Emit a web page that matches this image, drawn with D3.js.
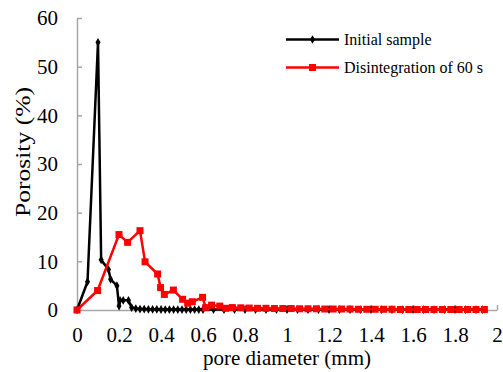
<!DOCTYPE html>
<html><head><meta charset="utf-8">
<script src="https://cdn.jsdelivr.net/npm/d3@7"></script>
<style>body{margin:0;background:#fff}svg{display:block}text{font-family:"Liberation Serif","Times New Roman",serif;fill:#000}</style>
</head><body>
<svg id="c" width="503" height="372"></svg>
<script>
const xTicks = [0,0.2,0.4,0.6,0.8,1,1.2,1.4,1.6,1.8,2];
const xTickLabels = ["0","0.2","0.4","0.6","0.8","1","1.2","1.4","1.6","1.8","2"];
const yTicks = [0,10,20,30,40,50,60];

const initialX = [0,0.05,0.1,0.115,0.15,0.16,0.19,0.2,0.205,0.22,0.245,0.26,0.28,0.3,0.32,0.34,0.36,0.38,0.4,0.42,0.44,0.46,0.48,0.5,0.52,0.54,0.56,0.58,0.6,0.65,0.7,0.75,0.8,0.85,0.9,0.95,1.0,1.05,1.1,1.15,1.2,1.25,1.3,1.35,1.4,1.45,1.5,1.55,1.6,1.65,1.7,1.75,1.8,1.85,1.9,1.93];
const initialY = [0,5.8,55,10.3,8.3,6.3,5,0.8,2,2,2,0.5,0.3,0.2,0.2,0.15,0.15,0.15,0.1,0.1,0.1,0.1,0.1,0.1,0.1,0.1,0.1,0.1,0.1,0.1,0.1,0.1,0.1,0.1,0.1,0.1,0.1,0.1,0.1,0.1,0.1,0.1,0.1,0.1,0.1,0.1,0.1,0.1,0.1,0.1,0.1,0.1,0.1,0.1,0.1,0.1];

const disX = [0,0.098,0.2,0.241,0.3,0.324,0.384,0.398,0.416,0.459,0.503,0.527,0.549,0.598,0.613,0.641,0.68,0.708,0.74,0.78,0.82,0.86,0.9,0.94,0.98,1.02,1.06,1.1,1.14,1.18,1.22,1.26,1.3,1.34,1.38,1.42,1.46,1.5,1.54,1.58,1.62,1.66,1.7,1.74,1.78,1.82,1.86,1.9,1.94];
const disY = [0,4.0,15.5,13.9,16.3,9.9,7.4,4.6,3.2,4.1,2.2,1.4,1.7,2.6,0.5,1.0,0.8,0.35,0.5,0.45,0.4,0.35,0.35,0.3,0.3,0.3,0.25,0.25,0.25,0.2,0.2,0.2,0.2,0.15,0.15,0.15,0.15,0.15,0.1,0.1,0.1,0.1,0.1,0.1,0.1,0.1,0.1,0.1,0.1];

const svg = d3.select("#c");
const L=77,R=497,T=18,B=310;
const x = d3.scaleLinear().domain([0,2]).range([L,R]);
const y = d3.scaleLinear().domain([0,60]).range([B,T]);
const axisCol = "#a6a6a6";

// axes
const xa = svg.append("g").attr("transform",`translate(0,${B})`)
  .call(d3.axisBottom(x).tickValues(xTicks).tickSizeInner(-5).tickSizeOuter(0).tickFormat((d,i)=>xTickLabels[i]).tickPadding(18));
xa.select(".domain").attr("stroke",axisCol).attr("stroke-width",1.5);
xa.selectAll(".tick line").attr("stroke",axisCol).attr("stroke-width",1.5);
xa.selectAll("text").attr("font-size",21).attr("font-family","Liberation Serif").attr("fill","#000").attr("dy","0.71em").attr("y",17);

const ya = svg.append("g").attr("transform",`translate(${L},0)`)
  .call(d3.axisLeft(y).tickValues(yTicks).tickSizeInner(-5).tickSizeOuter(0).tickPadding(18));
ya.select(".domain").attr("stroke",axisCol).attr("stroke-width",1.5);
ya.selectAll(".tick line").attr("stroke",axisCol).attr("stroke-width",1.5);
ya.selectAll("text").attr("font-size",21).attr("font-family","Liberation Serif").attr("fill","#000").attr("x",-19);

// titles
svg.append("text").attr("x",287).attr("y",365).attr("text-anchor","middle").attr("font-size",21).text("pore diameter (mm)");
svg.append("text").attr("transform","translate(30,152) rotate(-90)").attr("text-anchor","middle").attr("font-size",22)
  .attr("textLength",130).attr("lengthAdjust","spacingAndGlyphs").text("Porosity (%)");

const line = d3.line().x(d=>x(d[0])).y(d=>y(d[1]));
const init = initialX.map((v,i)=>[v,initialY[i]]);
const dis = disX.map((v,i)=>[v,disY[i]]);

svg.append("path").datum(init).attr("d",line).attr("fill","none").attr("stroke","#000").attr("stroke-width",2.5).attr("stroke-linejoin","round");
const diamond = d3.symbol().type(d3.symbolDiamond).size(22);
svg.append("g").selectAll("path").data(init).join("path").attr("d",diamond)
  .attr("transform",d=>`translate(${x(d[0])},${y(d[1])})`).attr("fill","#000");

svg.append("path").datum(dis).attr("d",line).attr("fill","none").attr("stroke","#ff0000").attr("stroke-width",2.5).attr("stroke-linejoin","round");
svg.append("g").selectAll("rect").data(dis).join("rect")
  .attr("x",d=>x(d[0])-3.5).attr("y",d=>y(d[1])-3.5).attr("width",7).attr("height",7).attr("fill","#ff0000");

// legend
const lg = svg.append("g");
lg.append("line").attr("x1",286).attr("x2",339).attr("y1",39.5).attr("y2",39.5).attr("stroke","#000").attr("stroke-width",2.5);
lg.append("path").attr("d",diamond).attr("transform","translate(312.5,39.5)").attr("fill","#000");
lg.append("text").attr("x",344).attr("y",45).attr("font-size",16).text("Initial sample");
lg.append("line").attr("x1",286).attr("x2",339).attr("y1",67.5).attr("y2",67.5).attr("stroke","#ff0000").attr("stroke-width",2.5);
lg.append("rect").attr("x",309).attr("y",64).attr("width",7).attr("height",7).attr("fill","#ff0000");
lg.append("text").attr("x",344).attr("y",73).attr("font-size",16).text("Disintegration of 60 s");
</script>
</body></html>
